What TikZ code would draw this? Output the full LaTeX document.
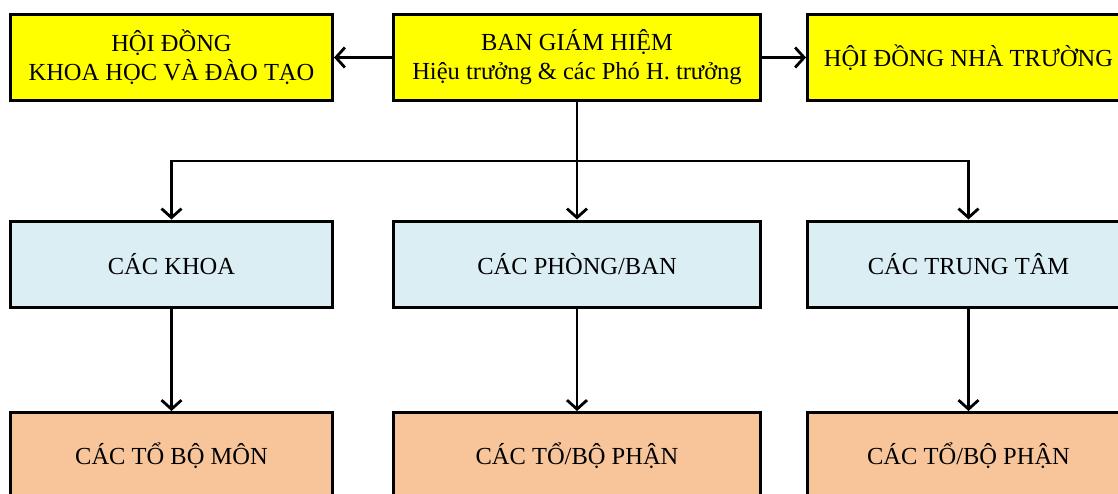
\documentclass[tikz,border=0pt]{standalone}
\usepackage{fontspec}
\setmainfont{Liberation Serif}
\usetikzlibrary{arrows.meta}
\definecolor{boxyellow}{HTML}{FFFF00}
\definecolor{boxblue}{HTML}{DBEEF4}
\definecolor{boxorange}{HTML}{F8C59B}
\tikzset{
  unit/.style = {shape=rectangle, draw=black, line width=3pt, align=center,
                 minimum width=322pt, minimum height=86pt, inner sep=2pt,
                 font=\fontsize{24.5}{29}\selectfont},
  board/.style = {unit, fill=boxyellow},
  dept/.style = {unit, fill=boxblue},
  group/.style = {unit, fill=boxorange},
  link/.style = {line width=2.8pt, -{Straight Barb[length=9pt,width=20pt,line width=2.8pt]}},
}
\begin{document}
\begin{tikzpicture}[x=1pt, y=-1pt]
	\useasboundingbox (0,0) rectangle (1118,493);
	\clip (0,0) rectangle (1118,493);
	% top row
	\node [board] (hdkh) at (171.5,57.5) {HỘI ĐỒNG\\KHOA HỌC VÀ ĐÀO TẠO};
	\node [board, minimum width=367pt] (bgh) at (577,57.5) {BAN GIÁM HIỆM\\Hiệu trưởng \& các Phó H. trưởng};
	\node [board] (hdnt) at (968.5,57.5) {HỘI ĐỒNG NHÀ TRƯỜNG};
	% middle row
	\node [dept] (khoa) at (171.5,264) {CÁC KHOA};
	\node [dept, minimum width=367pt] (phong) at (577,264) {CÁC PHÒNG/BAN};
	\node [dept] (tt) at (968.5,264) {CÁC TRUNG TÂM};
	% bottom row
	\node [group] (tbm) at (171.5,455.5) {CÁC TỔ BỘ MÔN};
	\node [group, minimum width=367pt] (tbp) at (577,455.5) {CÁC TỔ/BỘ PHẬN};
	\node [group] (tbptt) at (968.5,455.5) {CÁC TỔ/BỘ PHẬN};
	% connectors
	\coordinate (fork) at (577,161);
	\draw [link] (bgh.west) -- (hdkh.east);
	\draw [link] (bgh.east) -- (hdnt.west);
	\draw [link] (bgh.south) -- (phong.north);
	\draw [link] (fork) -| (khoa.north);
	\draw [link] (fork) -| (tt.north);
	\draw [link] (khoa.south) -- (tbm.north);
	\draw [link] (phong.south) -- (tbp.north);
	\draw [link] (tt.south) -- (tbptt.north);
\end{tikzpicture}
\end{document}
